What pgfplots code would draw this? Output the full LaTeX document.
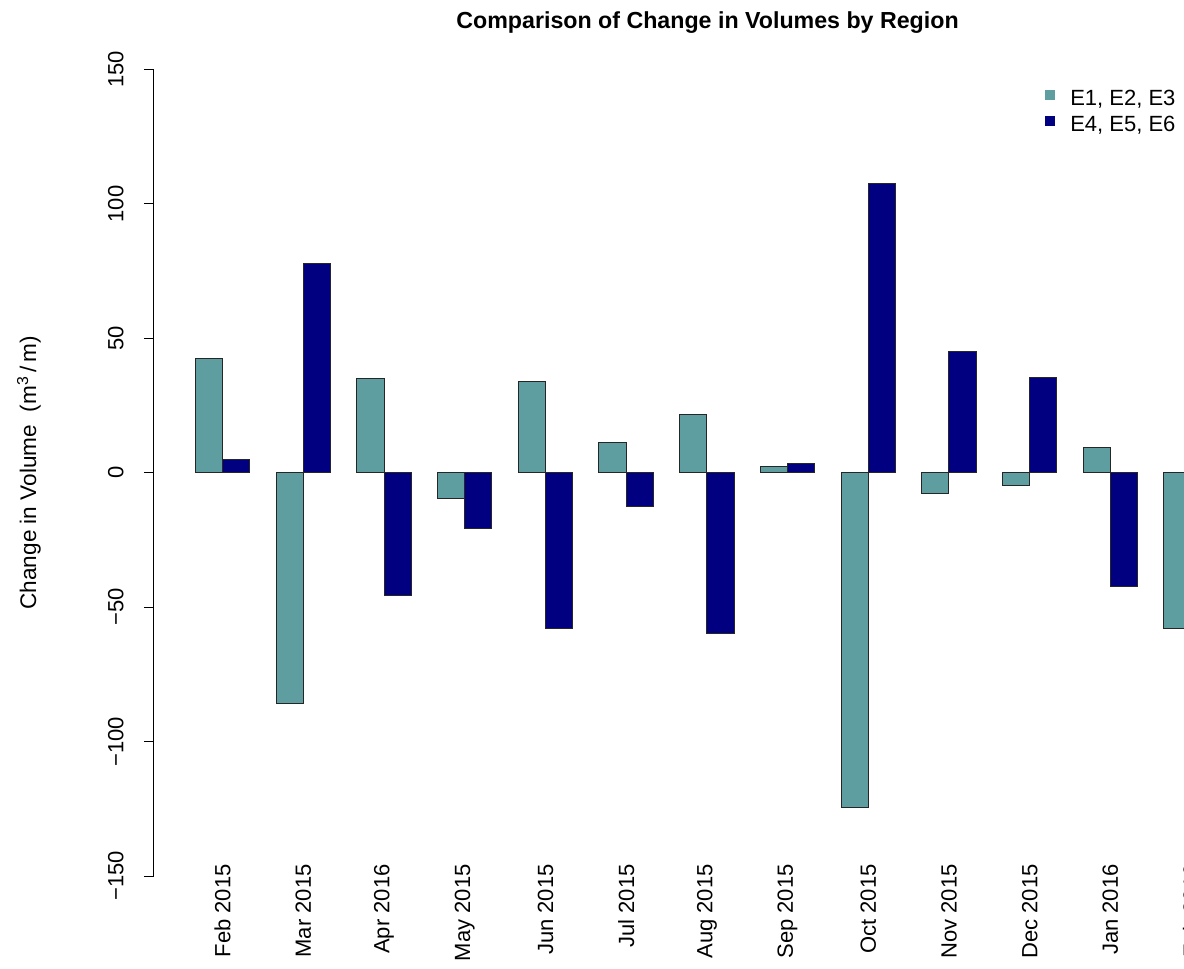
\documentclass[border=0pt]{standalone}
\usepackage{fontspec}
\setmainfont{Liberation Sans}
\usepackage{pgfplots}
\pgfplotsset{compat=1.18}
\definecolor{cadet}{RGB}{95,158,160}
\definecolor{navyc}{RGB}{0,0,128}
\begin{document}
\begin{tikzpicture}
\useasboundingbox (0pt,0pt) rectangle (592pt,-484.5pt);
\clip (0pt,0pt) rectangle (592pt,-484.5pt);
\begin{axis}[
  at={(77pt,-438pt)}, anchor=south west,
  scale only axis, width=523pt, height=403.25pt,
  xmin=-0.85, xmax=12.11, ymin=-150, ymax=150,
  ybar=0pt, bar width=13.6pt,
  axis y line*=left, axis x line*=bottom,
  x axis line style={draw=none},
  y axis line style={black, line width=0.5pt},
  tick align=outside, major tick length=5pt,
  ytick={-150,-100,-50,0,50,100,150},
  yticklabels={−150,−100,−50,0,50,100,150},
  ytick style={black, line width=0.5pt},
  xtick={0,1,2,3,4,5,6,7,8,9,10,11,12},
  xticklabels={Feb 2015, Mar 2015, Apr 2016, May 2015, Jun 2015, Jul 2015, Aug 2015, Sep 2015, Oct 2015, Nov 2015, Dec 2015, Jan 2016, Feb 2016},
  xtick style={draw=none},
  tick label style={font=\fontsize{11}{13}\selectfont},
  yticklabel style={rotate=90, anchor=south, inner sep=0pt},
  yticklabel shift=10pt,
  xticklabel style={rotate=90, anchor=east, inner sep=0pt},
  xticklabel shift=-11pt,
  title={Comparison of Change in Volumes by Region},
  title style={at={(axis description cs:0.5292,1.0428)}, anchor=center, font=\bfseries\fontsize{11.6}{14}\selectfont},
  ylabel={Change in Volume\ \ (m\textsuperscript{3}\,/\,m)},
  every axis y label/.style={at={(axis description cs:-0.1196,0.5)}, rotate=90, anchor=center, font=\fontsize{11.3}{13}\selectfont},
  legend style={draw=none, fill=none, at={(axis description cs:0.8517,0.9758)}, anchor=north west,
    font=\fontsize{11}{13}\selectfont, row sep=3pt, inner sep=0pt,
    nodes={inner sep=0pt, text height=8pt, text depth=2pt},
    /tikz/every odd column/.append style={column sep=7.5pt}},
  legend cell align=left,
  legend image code/.code={\fill[#1,draw=none] (0pt,-0.5pt) rectangle (5pt,4.5pt);},
]
\addplot[fill=cadet, draw=black!85, line width=0.5pt] coordinates {
 (0,42.6) (1,-85.7) (2,35.1) (3,-9.5) (4,34.0) (5,11.3) (6,21.8) (7,2.5) (8,-124.4) (9,-7.6) (10,-4.7) (11,9.5) (12,-57.9)};
\addplot[fill=navyc, draw=black!85, line width=0.5pt] coordinates {
 (0,4.9) (1,77.9) (2,-45.6) (3,-20.6) (4,-57.9) (5,-12.5) (6,-59.7) (7,3.4) (8,107.6) (9,45.0) (10,35.3) (11,-42.2)};
\legend{E1{,} E2{,} E3, E4{,} E5{,} E6}
\end{axis}
\end{tikzpicture}
\end{document}
